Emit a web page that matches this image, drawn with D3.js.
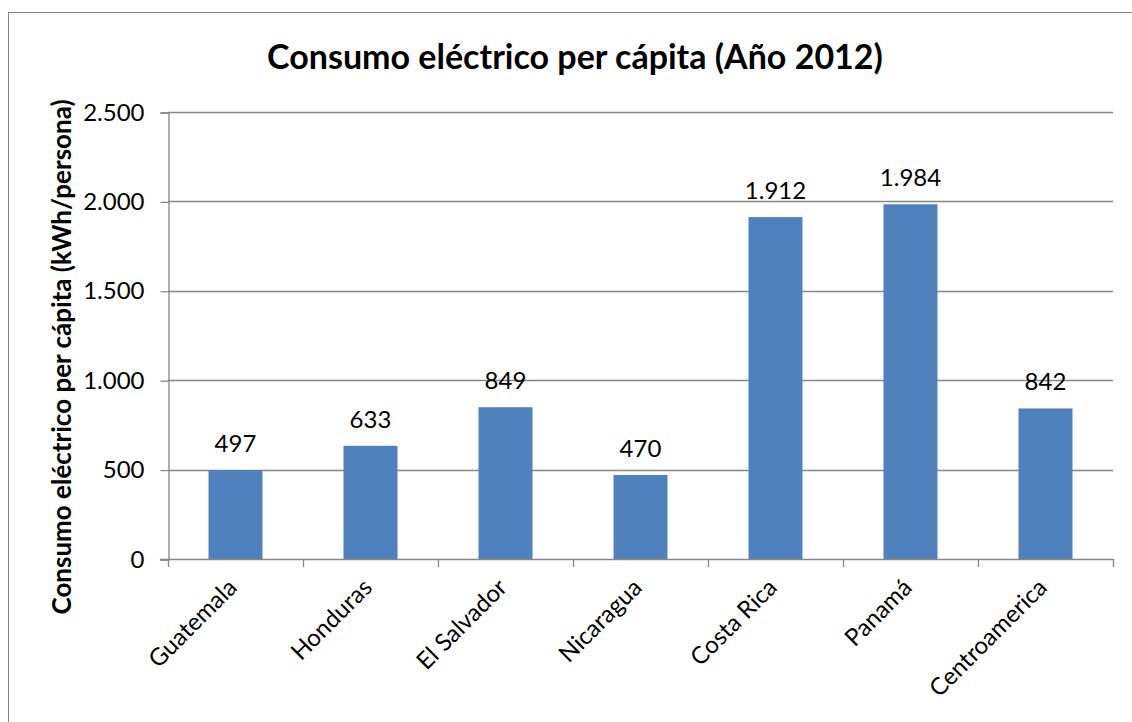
<!DOCTYPE html>
<html>
<head>
<meta charset="utf-8">
<script src="https://cdn.jsdelivr.net/npm/d3@7"></script>
<style>
  html, body { margin: 0; padding: 0; background: #fff; }
  svg { display: block; font-family: Lato, "Open Sans", sans-serif; }
</style>
</head>
<body>
<svg id="chart" width="1132" height="722"></svg>
<script>
// Electricity consumption per capita, Central America, 2012 (kWh/person)
const categories = ["Guatemala", "Honduras", "El Salvador", "Nicaragua", "Costa Rica", "Panamá", "Centroamerica"];
const values = [497, 633, 849, 470, 1912, 1984, 842];
const yTicks = [0, 500, 1000, 1500, 2000, 2500];
const titleText = "Consumo eléctrico per cápita (Año 2012)";
const yAxisTitle = "Consumo eléctrico per cápita (kWh/persona)";

const svg = d3.select("#chart");
const W = 1132, H = 722;
const plot = { left: 168, right: 1113, top: 112, bottom: 559 };
const gray = "#868686";
const barColor = "#4F81BD";
const labelSize = 24;

// Spanish-style number formatting: "." as thousands separator
const locale = d3.formatLocale({ decimal: ",", thousands: ".", grouping: [3], currency: ["", " €"] });
const fmt = locale.format(",d");

// Outer chart frame
svg.append("rect")
  .attr("x", 8.5).attr("y", 12.5)
  .attr("width", W + 20).attr("height", H + 20)
  .attr("fill", "#fff").attr("stroke", gray).attr("stroke-width", 1);

const x = d3.scaleBand()
  .domain(categories)
  .range([plot.left, plot.right])
  .paddingInner(0.6)
  .paddingOuter(0.3);

const y = d3.scaleLinear()
  .domain([0, 2500])
  .range([plot.bottom, plot.top]);

// Horizontal gridlines
svg.append("g")
  .selectAll("line")
  .data(yTicks.filter(d => d > 0))
  .join("line")
  .attr("x1", plot.left).attr("x2", plot.right)
  .attr("y1", d => Math.round(y(d)) + 0.5).attr("y2", d => Math.round(y(d)) + 0.5)
  .attr("stroke", gray).attr("stroke-width", 1.3);

// Bars
svg.append("g")
  .selectAll("rect")
  .data(values)
  .join("rect")
  .attr("x", (d, i) => x(categories[i]))
  .attr("width", x.bandwidth())
  .attr("y", d => y(d))
  .attr("height", d => y(0) - y(d))
  .attr("fill", barColor);

// Value labels above bars
svg.append("g")
  .selectAll("text")
  .data(values)
  .join("text")
  .attr("x", (d, i) => x(categories[i]) + x.bandwidth() / 2)
  .attr("y", d => y(d) - 18)
  .attr("text-anchor", "middle")
  .attr("font-size", labelSize)
  .attr("fill", "#000")
  .text(d => fmt(d));

// Y axis
const yAxis = d3.axisLeft(y)
  .tickValues(yTicks)
  .tickSize(8)
  .tickPadding(16)
  .tickFormat(d => fmt(d));
const gy = svg.append("g")
  .attr("transform", `translate(${plot.left + 0.5},0.5)`)
  .call(yAxis);
gy.select(".domain").attr("stroke", gray).attr("stroke-width", 1.3);
gy.selectAll(".tick line").attr("stroke", gray).attr("stroke-width", 1.3);
gy.selectAll(".tick text")
  .attr("font-size", labelSize)
  .attr("font-family", "Lato, 'Open Sans', sans-serif")
  .attr("fill", "#000");

// X axis: ticks on category boundaries
const boundaries = categories.map(c => x(c) - x.step() * x.paddingInner() / 2).concat([plot.right]);
const gx = svg.append("g");
gx.append("line")
  .attr("x1", plot.left - 8).attr("x2", plot.right)
  .attr("y1", plot.bottom + 0.5).attr("y2", plot.bottom + 0.5)
  .attr("stroke", gray).attr("stroke-width", 1.3);
gx.selectAll("line.tk")
  .data([plot.left].concat(boundaries.slice(1)))
  .join("line")
  .attr("class", "tk")
  .attr("x1", d => Math.round(d) + 0.5).attr("x2", d => Math.round(d) + 0.5)
  .attr("y1", plot.bottom).attr("y2", plot.bottom + 8)
  .attr("stroke", gray).attr("stroke-width", 1.3);

// Rotated category labels
gx.selectAll("text")
  .data(categories)
  .join("text")
  .attr("transform", d => `translate(${x(d) + x.bandwidth() / 2 + 3},${plot.bottom + 30}) rotate(-45)`)
  .attr("text-anchor", "end")
  .attr("font-size", 24)
  .attr("fill", "#000")
  .text(d => d);

// Y axis title
svg.append("text")
  .attr("transform", "translate(71,357) rotate(-90)")
  .attr("text-anchor", "middle")
  .attr("font-size", 26)
  .attr("font-weight", "bold")
  .attr("fill", "#000")
  .text(yAxisTitle);

// Chart title
svg.append("text")
  .attr("x", 575)
  .attr("y", 69)
  .attr("text-anchor", "middle")
  .attr("font-size", 34)
  .attr("font-weight", "bold")
  .attr("fill", "#000")
  .text(titleText);
</script>
</body>
</html>
